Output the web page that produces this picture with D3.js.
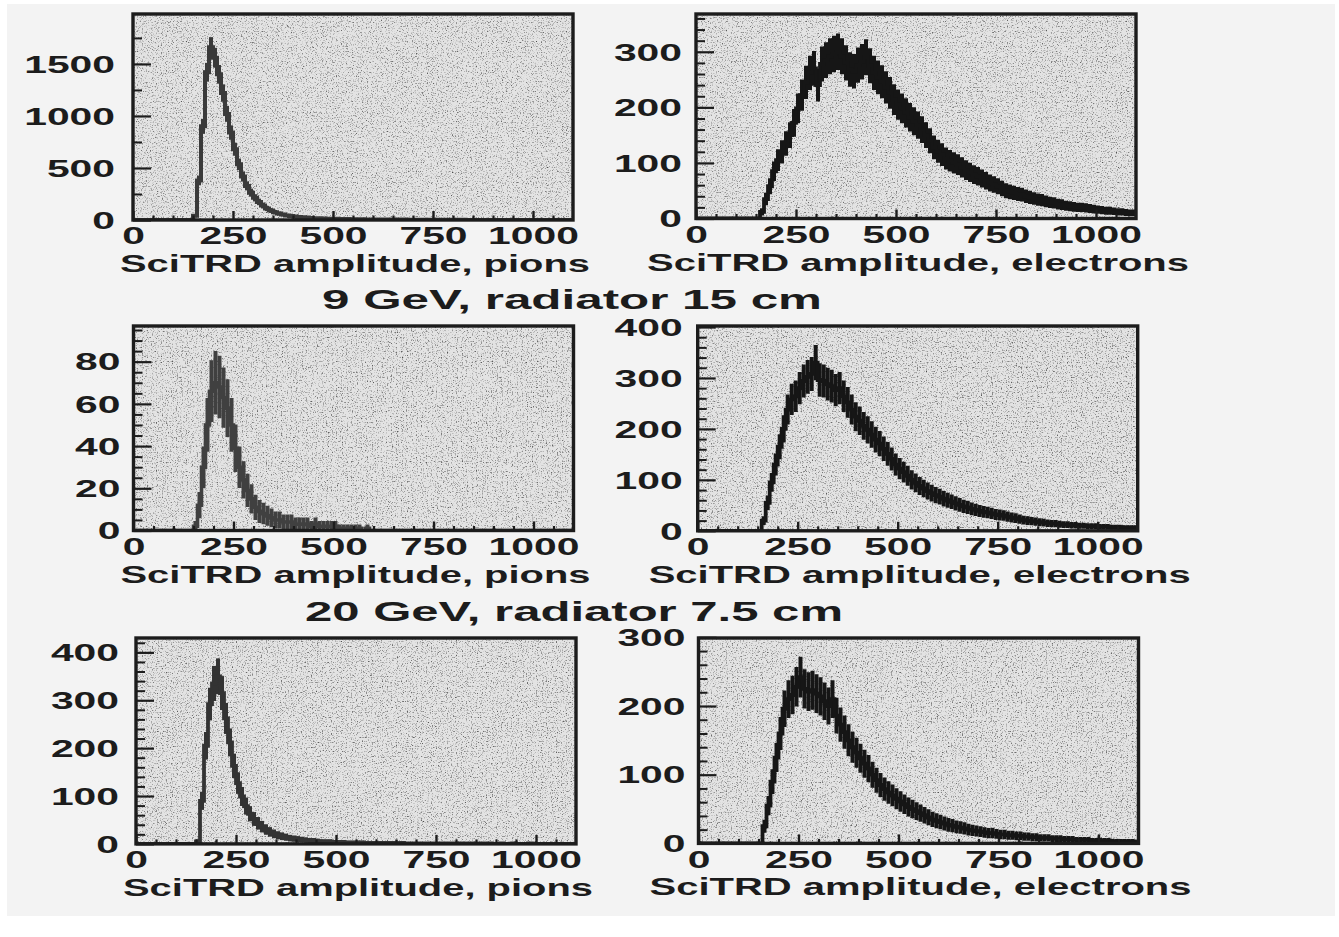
<!DOCTYPE html>
<html>
<head>
<meta charset="utf-8">
<script src="https://cdn.jsdelivr.net/npm/d3@7"></script>
<style>
  html, body { margin: 0; padding: 0; background: #ffffff; }
  svg { display: block; }
</style>
</head>
<body>
<svg id="chart" width="1339" height="937"></svg>
<script>
// ---- data: SciTRD amplitude spectra, 10-channel bins from 0 to 1100 ----
const binWidth = 10;
const xDomain = [0, 1100];
const xTickValues = [0, 250, 500, 750, 1000];

// top row
const pionsTop = [
  0,0,0,0,0,0,0,0,0,0, 0,0,0,0,0,
  40,380,900,1420,1660,
  1560,1400,1220,1020,840,680,535,418,328,263,
  213,174,139,111,91,75,62,52,44,38,
  34,30,26,23,20,18,16,14,13,12,
  11,10,9,9,8,8,7,7,6,6,
  6,5,5,5,4,4,4,4,3,3,
  3,3,3,3,2,2,2,2,2,2,
  2,2,2,1,1,1,1,1,1,1,
  1,1,1,1,1,1,1,0,0,0,
  0,0,0,0,0,0,0,0,0,0
];
const electronsTop = [
  0,0,0,0,0,0,0,0,0,0, 0,0,0,0,0,0,
  12,35,58,85,
  105,120,135,150,172,198,222,245,262,270,
  240,278,285,292,296,300,292,280,268,265,
  276,282,290,275,262,254,246,236,226,214,
  205,198,190,182,175,168,160,150,140,128,
  121,115,108,104,100,97,92,87,83,79,
  76,72,68,64,61,58,54,50,48,46,
  44,43,40,38,36,34,33,31,29,28,
  26,25,23,22,21,20,20,19,18,17,
  16,15,14,14,13,12,12,11,10,10
];

// 9 GeV, radiator 15 cm
const pions9GeV = [
  0,0,0,0,0,0,0,0,0,0, 0,0,0,0,0,
  2,12,30,50,66,
  70,68,63,58,50,39,30,24,19,15,
  11,9,8,7,6,5,5,4,4,4,
  3,3,3,3,2,3,2,2,2,2,
  2,1,1,1,1,1,1,0,1,0,
  0,0,0,0,0,0,0,0,0,0,
  0,0,0,0,0,0,0,0,0,0,
  0,0,0,0,0,0,0,0,0,0,
  0,0,0,0,0,0,0,0,0,0,
  0,0,0,0,0,0,0,0,0,0
];
const electrons9GeV = [
  0,0,0,0,0,0,0,0,0,0, 0,0,0,0,0,0,
  20,55,95,130,
  165,200,238,258,264,280,294,302,308,330,
  296,294,288,284,276,280,264,252,238,224,
  216,206,198,189,179,171,161,151,141,130,
  122,115,108,100,94,88,83,78,74,70,
  67,63,60,57,54,51,48,46,43,41,
  39,37,36,34,32,31,30,28,26,25,
  23,21,20,19,18,17,16,15,14,14,
  13,12,12,11,11,10,10,9,9,9,
  8,8,8,7,7,7,6,6,6,6
];

// 20 GeV, radiator 7.5 cm
const pions20GeV = [
  0,0,0,0,0,0,0,0,0,0, 0,0,0,0,0,
  5,90,205,292,335,
  350,315,262,212,163,127,99,79,63,52,
  43,36,30,25,21,18,16,14,12,11,
  10,9,8,7,7,6,5,5,5,4,
  4,4,3,3,3,3,3,2,2,2,
  2,2,2,2,2,1,2,1,1,1,
  1,1,1,1,1,1,1,1,1,1,
  1,1,0,1,1,0,1,0,1,0,
  0,1,0,0,1,0,0,0,1,0,
  0,0,0,0,0,0,0,0,0,0
];
const electrons20GeV = [
  0,0,0,0,0,0,0,0,0,0, 0,0,0,0,0,0,
  25,55,90,125,
  160,196,210,216,228,242,225,221,223,218,
  214,207,200,210,186,173,162,150,140,132,
  124,116,109,100,92,85,79,74,70,65,
  61,57,53,50,47,44,41,38,35,33,
  31,29,27,26,24,23,22,20,19,18,
  17,16,15,15,14,13,13,12,12,11,
  11,10,10,9,9,8,8,8,7,7,
  7,6,6,6,5,5,5,5,4,4,
  4,4,4,3,3,3,3,3,3,2
];

// vertical axis ranges and tick labels
const yMaxima = [1980, 368, 96.9, 402, 430, 299];
const yTickLabels = [
  [0, 500, 1000, 1500],
  [0, 100, 200, 300],
  [0, 20, 40, 60, 80],
  [0, 100, 200, 300, 400],
  [0, 100, 200, 300, 400],
  [0, 100, 200, 300]
];
const yMinorSteps = [250, 20, 5, 20, 20, 20];
const errorScales = [2.4, 1.9, 1.8, 1.9, 2.0, 1.9];

const axisTitles = ["SciTRD amplitude, pions", "SciTRD amplitude, electrons"];
const rowTitles = ["9 GeV, radiator 15 cm", "20 GeV, radiator 7.5 cm"];

// ---- layout ----
const seriesList = [pionsTop, electronsTop, pions9GeV, electrons9GeV, pions20GeV, electrons20GeV];
const frames = [
  { left: 133,   top: 14,  bottom: 220,   labelPad: 18 },
  { left: 696,   top: 14,  bottom: 218.5, labelPad: 14 },
  { left: 133.5, top: 326, bottom: 530.5, labelPad: 13 },
  { left: 697.7, top: 326, bottom: 530.8, labelPad: 15 },
  { left: 136,   top: 638, bottom: 843.9, labelPad: 17 },
  { left: 698.5, top: 638, bottom: 843.4, labelPad: 13 }
];
const frameWidth = 440;
const ink = "#1c1c1c";
const lineInk = ["#3a3a3a", "#161616", "#404040", "#161616", "#333333", "#161616"];
const lineWidths = [4, 3.8, 3.6, 3.8, 3.8, 3.8];
const fontFamily = "'Liberation Sans', Arial, Helvetica, sans-serif";
const tickFont = 23;
const digitWidth = 22.7;
const numberFormat = d3.format("d");

const svg = d3.select("#chart");

// paper
svg.append("rect").attr("x", 0).attr("y", 0).attr("width", 1339).attr("height", 937).attr("fill", "#ffffff");
svg.append("rect").attr("x", 7).attr("y", 4).attr("width", 1328).attr("height", 912).attr("fill", "#f3f3f3");

const defs = svg.append("defs");

seriesList.forEach((values, i) => {
  const f = frames[i];
  const x = d3.scaleLinear().domain(xDomain).range([f.left, f.left + frameWidth]);
  const y = d3.scaleLinear().domain([0, yMaxima[i]]).range([f.bottom, f.top]);
  const h = f.bottom - f.top;

  // stippled shading of the plot area
  const grain = defs.append("filter").attr("id", "grain" + i)
    .attr("x", 0).attr("y", 0).attr("width", 1).attr("height", 1)
    .attr("color-interpolation-filters", "sRGB");
  grain.append("feTurbulence").attr("type", "fractalNoise").attr("baseFrequency", 0.8)
    .attr("numOctaves", 2).attr("seed", 7 + i * 13).attr("result", "noise");
  grain.append("feColorMatrix").attr("in", "noise").attr("type", "matrix")
    .attr("values", "0 0 0 0 0.3  0 0 0 0 0.3  0 0 0 0 0.3  2.8 0 0 0 -1.5")
    .attr("result", "dots");
  grain.append("feFlood").attr("flood-color", "#e3e3e3").attr("result", "base");
  grain.append("feComposite").attr("in", "dots").attr("in2", "base").attr("operator", "over");

  svg.append("rect")
    .attr("x", f.left).attr("y", f.top).attr("width", frameWidth).attr("height", h)
    .attr("fill", "#d8d8d8").attr("filter", `url(#grain${i})`);

  const clipId = "clip" + i;
  defs.append("clipPath").attr("id", clipId).append("rect")
    .attr("x", f.left).attr("y", f.top).attr("width", frameWidth).attr("height", h);

  const g = svg.append("g").attr("clip-path", `url(#${clipId})`);
  const bins = values.map((v, k) => ({ x0: k * binWidth, x1: (k + 1) * binWidth, v }));

  // error bars, as wide as a bin
  g.selectAll("line.err").data(bins.filter(b => b.v > 0)).join("line")
    .attr("class", "err")
    .attr("x1", b => x((b.x0 + b.x1) / 2)).attr("x2", b => x((b.x0 + b.x1) / 2))
    .attr("y1", b => y(Math.max(0, b.v - errorScales[i] * Math.sqrt(b.v))))
    .attr("y2", b => y(b.v + errorScales[i] * Math.sqrt(b.v)))
    .attr("stroke", lineInk[i]).attr("stroke-width", x(binWidth) - x(0));

  // histogram outline
  const stepPoints = bins.map(b => [b.x0, b.v]).concat([[bins[bins.length - 1].x1, bins[bins.length - 1].v]]);
  g.append("path")
    .datum(stepPoints)
    .attr("d", d3.line().x(d => x(d[0])).y(d => y(d[1])).curve(d3.curveStepAfter))
    .attr("fill", "none").attr("stroke", lineInk[i]).attr("stroke-width", lineWidths[i])
    .attr("stroke-linejoin", "miter");

  // vertical axis: minor ticks, major ticks with labels
  const yMinor = d3.range(0, yMaxima[i], yMinorSteps[i]).filter(t => !yTickLabels[i].includes(t));
  svg.append("g").attr("transform", `translate(${f.left},0)`)
    .call(d3.axisLeft(y).tickValues(yMinor).tickSizeInner(-9).tickSizeOuter(0).tickFormat(""))
    .call(a => a.select(".domain").remove())
    .call(a => a.selectAll("line").attr("stroke", ink).attr("stroke-width", 2));

  svg.append("g").attr("transform", `translate(${f.left},0)`)
    .call(d3.axisLeft(y).tickValues(yTickLabels[i]).tickSizeInner(-18).tickSizeOuter(0)
      .tickPadding(f.labelPad).tickFormat(numberFormat))
    .call(a => a.select(".domain").remove())
    .call(a => a.selectAll("line").attr("stroke", ink).attr("stroke-width", 2.2))
    .call(a => a.selectAll("text")
      .attr("fill", ink).attr("font-family", fontFamily).attr("font-weight", "bold")
      .attr("font-size", tickFont).attr("dy", "0.36em")
      .attr("textLength", d => numberFormat(d).length * digitWidth)
      .attr("lengthAdjust", "spacingAndGlyphs"));

  // horizontal axis
  const xMinor = d3.range(50, 1100, 50).filter(t => !xTickValues.includes(t));
  svg.append("g").attr("transform", `translate(0,${f.bottom})`)
    .call(d3.axisBottom(x).tickValues(xMinor).tickSizeInner(-4.5).tickSizeOuter(0).tickFormat(""))
    .call(a => a.select(".domain").remove())
    .call(a => a.selectAll("line").attr("stroke", ink).attr("stroke-width", 2.2));

  svg.append("g").attr("transform", `translate(0,${f.bottom})`)
    .call(d3.axisBottom(x).tickValues(xTickValues).tickSizeInner(-9).tickSizeOuter(0)
      .tickPadding(8).tickFormat(numberFormat))
    .call(a => a.select(".domain").remove())
    .call(a => a.selectAll("line").attr("stroke", ink).attr("stroke-width", 2.4))
    .call(a => a.selectAll("text")
      .attr("fill", ink).attr("font-family", fontFamily).attr("font-weight", "bold")
      .attr("font-size", tickFont)
      .attr("textLength", d => numberFormat(d).length * digitWidth)
      .attr("lengthAdjust", "spacingAndGlyphs"));

  // frame
  svg.append("rect")
    .attr("x", f.left).attr("y", f.top).attr("width", frameWidth).attr("height", h)
    .attr("fill", "none").attr("stroke", ink).attr("stroke-width", 3.4);

  // axis title
  const isElectron = i % 2 === 1;
  svg.append("text")
    .attr("x", f.left + frameWidth / 2 + 2).attr("y", f.bottom + 52)
    .attr("text-anchor", "middle")
    .attr("fill", ink).attr("font-family", fontFamily).attr("font-weight", "bold").attr("font-size", 24)
    .attr("textLength", isElectron ? 542 : 470).attr("lengthAdjust", "spacingAndGlyphs")
    .text(axisTitles[isElectron ? 1 : 0]);
});

// row headings
const rowTitleLayout = [
  { x: 572, y: 309, len: 500 },
  { x: 574, y: 621, len: 538 }
];
rowTitles.forEach((t, k) => {
  svg.append("text")
    .attr("x", rowTitleLayout[k].x).attr("y", rowTitleLayout[k].y)
    .attr("text-anchor", "middle")
    .attr("fill", ink).attr("font-family", fontFamily).attr("font-weight", "bold").attr("font-size", 28)
    .attr("textLength", rowTitleLayout[k].len).attr("lengthAdjust", "spacingAndGlyphs")
    .text(t);
});
</script>
</body>
</html>
